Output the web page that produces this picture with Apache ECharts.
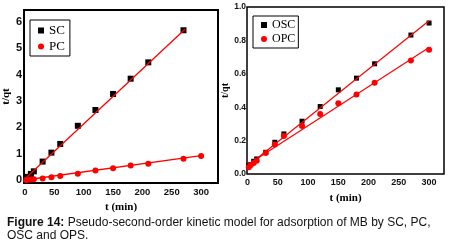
<!DOCTYPE html>
<html>
<head>
<meta charset="utf-8">
<script src="https://cdn.jsdelivr.net/npm/echarts@6/dist/echarts.min.js"></script>
<style>
    html, body { margin: 0; padding: 0; background: #fff; }
    #main { width: 458px; height: 245px; }
</style>
</head>
<body>
<div id="main"></div>
<script>
    // left panel
    var tSC = [2, 5, 10, 15, 30, 45, 60, 90, 120, 150, 180, 210, 270];
    var valSC = [0.05, 0.12, 0.23, 0.33, 0.70, 1.04, 1.37, 2.06, 2.66, 3.27, 3.85, 4.47, 5.69];
    var tPC = [2, 5, 10, 15, 30, 45, 60, 90, 120, 150, 180, 210, 270, 300];
    var valPC = [0.0, 0.01, 0.02, 0.03, 0.06, 0.10, 0.15, 0.24, 0.36, 0.45, 0.55, 0.62, 0.81, 0.91];
    var fitSC = [[0, 0.05], [273, 5.74]];
    var fitPC = [[0, 0.0], [300, 0.93]];

    // right panel
    var tRight = [2, 5, 10, 15, 30, 45, 60, 90, 120, 150, 180, 210, 270, 300];
    var valOSC = [0.05, 0.056, 0.076, 0.09, 0.13, 0.19, 0.24, 0.316, 0.404, 0.504, 0.574, 0.66, 0.832, 0.904];
    var valOPC = [0.04, 0.054, 0.066, 0.08, 0.126, 0.176, 0.228, 0.288, 0.36, 0.424, 0.476, 0.546, 0.68, 0.744];
    var fitOSC = [[2, 0.054], [300, 0.918]];
    var fitOPC = [[2, 0.06], [300, 0.758]];

    var xTicks = [0, 50, 100, 150, 200, 250, 300];
    var yTicksLeft = [0, 1, 2, 3, 4, 5, 6];

    function pairs(xs, ys) {
        return xs.map(function(x, i) { return [x, ys[i]]; });
    }

    var serif = 'Liberation Serif';
    var sans = 'Liberation Sans';

    var myChart = echarts.init(document.getElementById('main'));

    var option = {
        animation: false,
        title: {
            left: 2,
            top: 211,
            text: '{b|Figure 14:} Pseudo-second-order kinetic model for adsorption of MB by SC, PC,\nOSC and OPS.',
            textStyle: {
                fontFamily: sans,
                fontSize: 12,
                fontWeight: 'normal',
                color: '#111',
                lineHeight: 13,
                rich: {
                    b: { fontFamily: sans, fontSize: 12, fontWeight: 'bold', color: '#111' }
                }
            }
        },
        legend: [{
            left: 30,
            top: 20,
            orient: 'vertical',
            data: ['SC', 'PC'],
            borderColor: '#000',
            borderWidth: 1,
            padding: [4, 5, 3, 8],
            itemGap: 3,
            itemWidth: 6,
            itemHeight: 6,
            textStyle: { fontFamily: serif, fontSize: 13, color: '#000' }
        }, {
            left: 253,
            top: 16,
            orient: 'vertical',
            data: ['OSC', 'OPC'],
            borderColor: '#000',
            borderWidth: 1,
            padding: [3, 3, 3, 8],
            itemGap: 2,
            itemWidth: 6,
            itemHeight: 6,
            textStyle: { fontFamily: serif, fontSize: 12, color: '#000' }
        }],
        grid: [{
            left: 22, top: 10, width: 196, height: 173,
            show: true, borderColor: '#000', borderWidth: 2
        }, {
            left: 247, top: 7, width: 197, height: 167,
            show: true, borderColor: '#000', borderWidth: 1.5
        }],
        xAxis: [{
            gridIndex: 0,
            type: 'value',
            min: -1.7, max: 328.8,
            name: 't (min)',
            nameLocation: 'middle',
            nameGap: 19,
            nameTextStyle: { fontFamily: serif, fontWeight: 'bold', fontSize: 11, color: '#000' },
            axisLine: { show: false },
            axisTick: { show: false },
            splitLine: { show: false },
            axisLabel: {
                customValues: xTicks,
                margin: 4,
                fontFamily: sans, fontWeight: 'bold', fontSize: 9.5, color: '#111'
            }
        }, {
            gridIndex: 1,
            type: 'value',
            min: -1, max: 324.7,
            name: 't (min)',
            nameLocation: 'middle',
            nameGap: 19,
            nameTextStyle: { fontFamily: serif, fontWeight: 'bold', fontSize: 11, color: '#000' },
            axisLine: { show: false },
            axisTick: { show: false },
            splitLine: { show: false },
            axisLabel: {
                customValues: xTicks,
                margin: 4,
                fontFamily: sans, fontWeight: 'bold', fontSize: 9, color: '#111'
            }
        }],
        yAxis: [{
            gridIndex: 0,
            type: 'value',
            min: -0.114, max: 6.46,
            name: 't/qt',
            nameLocation: 'middle',
            nameGap: 9,
            nameTextStyle: { fontFamily: serif, fontWeight: 'bold', fontSize: 11, color: '#000' },
            axisLine: { show: false },
            axisTick: { show: false },
            splitLine: { show: false },
            axisLabel: {
                customValues: yTicksLeft,
                margin: 2,
                fontFamily: sans, fontWeight: 'bold', fontSize: 11, color: '#111'
            }
        }, {
            gridIndex: 1,
            type: 'value',
            min: 0, max: 1, interval: 0.2,
            name: 't/qt',
            nameLocation: 'middle',
            nameGap: 6,
            nameTextStyle: { fontFamily: serif, fontWeight: 'bold', fontSize: 10, color: '#000' },
            axisLine: { show: false },
            axisTick: { show: false },
            splitLine: { show: false },
            axisLabel: {
                margin: 1,
                fontFamily: sans, fontWeight: 'bold', fontSize: 8.5, color: '#111',
                formatter: function(v) { return v.toFixed(1); }
            }
        }],
        series: [{
                type: 'line', xAxisIndex: 0, yAxisIndex: 0,
                data: fitSC, symbol: 'none',
                lineStyle: { color: '#f00', width: 1.3 }
            },
            {
                type: 'line', xAxisIndex: 0, yAxisIndex: 0,
                data: fitPC, symbol: 'none',
                lineStyle: { color: '#f00', width: 1.3 }
            },
            {
                name: 'SC', type: 'scatter', xAxisIndex: 0, yAxisIndex: 0,
                data: pairs(tSC, valSC),
                symbol: 'rect', symbolSize: 6,
                itemStyle: { color: '#000', opacity: 1 }
            },
            {
                name: 'PC', type: 'scatter', xAxisIndex: 0, yAxisIndex: 0,
                data: pairs(tPC, valPC),
                symbol: 'circle', symbolSize: 6,
                itemStyle: { color: '#f00', opacity: 1 }
            },
            {
                type: 'line', xAxisIndex: 1, yAxisIndex: 1,
                data: fitOSC, symbol: 'none',
                lineStyle: { color: '#f00', width: 1.2 }
            },
            {
                type: 'line', xAxisIndex: 1, yAxisIndex: 1,
                data: fitOPC, symbol: 'none',
                lineStyle: { color: '#f00', width: 1.2 }
            },
            {
                name: 'OSC', type: 'scatter', xAxisIndex: 1, yAxisIndex: 1,
                data: pairs(tRight, valOSC),
                symbol: 'rect', symbolSize: 5,
                itemStyle: { color: '#000', opacity: 1 }
            },
            {
                name: 'OPC', type: 'scatter', xAxisIndex: 1, yAxisIndex: 1,
                data: pairs(tRight, valOPC),
                symbol: 'circle', symbolSize: 6,
                itemStyle: { color: '#f00', opacity: 1 }
            }
        ]
    };
    myChart.setOption(option);

    window.addEventListener('resize', function() {
        myChart.resize();
    });
</script>
</body>
</html>
